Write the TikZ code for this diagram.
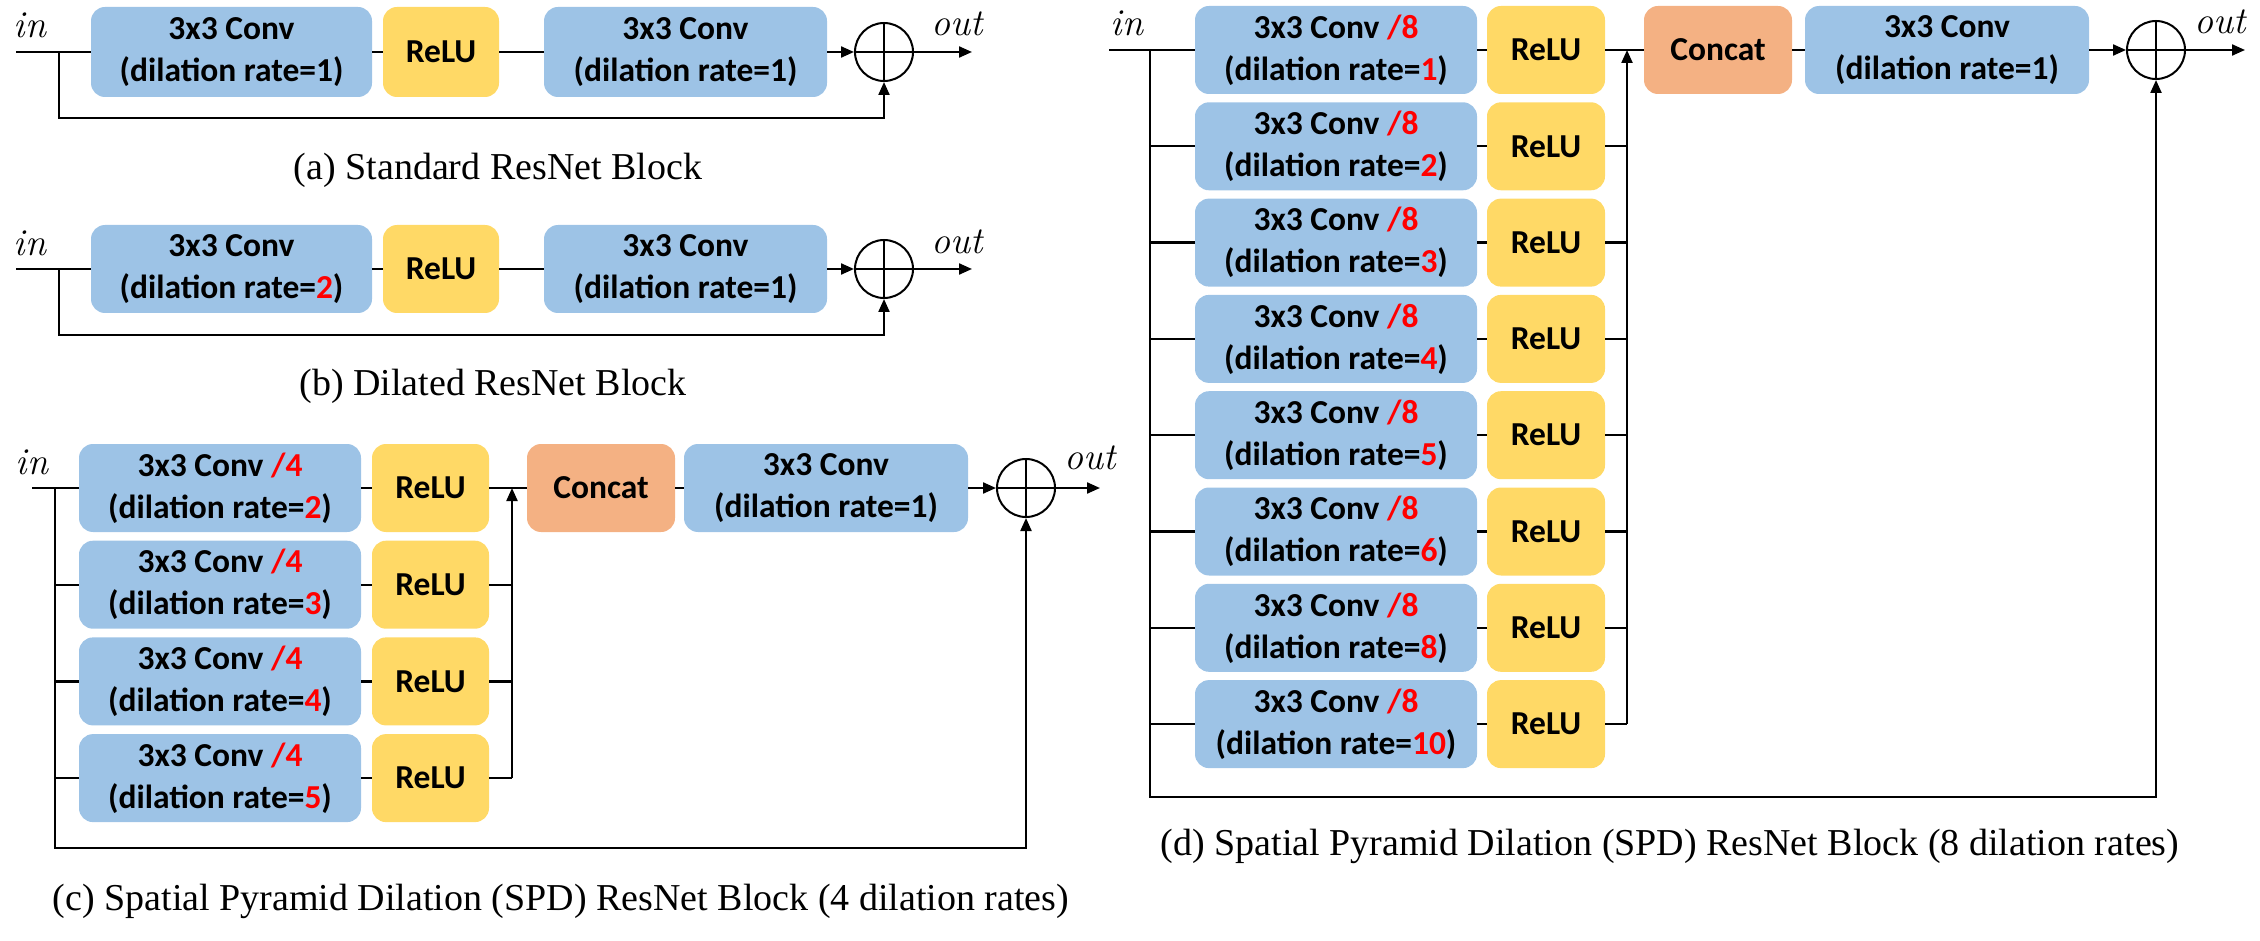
\documentclass[tikz,border=0pt]{standalone}
\usepackage{fontspec}
\setmainfont{Liberation Serif}
\newfontfamily\carlito{Carlito}
\newfontfamily\lmr{Latin Modern Roman}
\usetikzlibrary{arrows.meta}
\definecolor{convblue}{HTML}{9DC3E6}
\definecolor{reluyellow}{HTML}{FFD966}
\definecolor{catorange}{HTML}{F4B183}
\definecolor{rd}{HTML}{FF0000}
\newcommand{\rr}[1]{\textcolor{rd}{#1}}
\tikzset{
  basebox/.style={rounded corners=14pt, inner sep=0pt, align=center, minimum height=88pt,
    font=\carlito\bfseries\fontsize{33.5}{42}\selectfont},
  convbox/.style={basebox, fill=convblue, minimum width=282pt},
  relubox/.style={basebox, fill=reluyellow, minimum width=117pt},
  catbox/.style={basebox, fill=catorange, minimum width=148pt},
  sumnode/.style={circle, draw, line width=2pt, minimum size=58pt, inner sep=0pt,
    path picture={\draw[line width=2pt] (path picture bounding box.north) -- (path picture bounding box.south)
      (path picture bounding box.west) -- (path picture bounding box.east);}},
  link/.style={line width=2.2pt},
  arr/.style={link, -{Triangle[length=13pt,width=11pt]}},
  captext/.style={font=\fontsize{38}{44}\selectfont, inner sep=0pt},
  iotext/.style={font=\lmr\itshape\fontsize{38}{42}\selectfont, inner sep=0pt},
}
\begin{document}
\begin{tikzpicture}[x=1pt,y=-1pt]
\useasboundingbox (0,0) rectangle (2260,941);

% ---------- (a) ----------
\node[iotext] (ina) at (30,25) {in};
\coordinate (sa) at (16,52);
\coordinate (ta) at (59,52);
\node[convbox, minimum height=90pt, minimum width=281pt] (ca1) at (231.5,52) {3x3 Conv\\(dilation rate=1)};
\node[relubox, minimum height=90pt, minimum width=116pt] (ra) at (441,52) {ReLU};
\node[convbox, minimum height=90pt, minimum width=283pt] (ca2) at (685.5,52) {3x3 Conv\\(dilation rate=1)};
\node[sumnode] (suma) at (884,52) {};
\coordinate (ea) at (972,52);
\node[iotext] (outa) at (957,24) {out};
\draw[link] (sa) -- (ca1.west);
\draw[link] (ca1.east) -- (ra.west);
\draw[link] (ra.east) -- (ca2.west);
\draw[arr] (ca2.east) -- (suma.west);
\draw[arr] (suma.east) -- (ea);
\draw[arr] (ta) -- ++(0,66) -| (suma.south);
\node[captext] (capa) at (498,170) {(a) Standard ResNet Block};

% ---------- (b) ----------
\node[iotext] (inb) at (30,243) {in};
\coordinate (sb) at (16,269);
\coordinate (tb) at (59,269);
\node[convbox, minimum height=88pt, minimum width=281pt] (cb1) at (231.5,269) {3x3 Conv\\(dilation rate=\rr{2})};
\node[relubox, minimum height=88pt, minimum width=116pt] (rb) at (441,269) {ReLU};
\node[convbox, minimum height=88pt, minimum width=283pt] (cb2) at (685.5,269) {3x3 Conv\\(dilation rate=1)};
\node[sumnode] (sumb) at (884,269) {};
\coordinate (eb) at (972,269);
\node[iotext] (outb) at (957,242) {out};
\draw[link] (sb) -- (cb1.west);
\draw[link] (cb1.east) -- (rb.west);
\draw[link] (rb.east) -- (cb2.west);
\draw[arr] (cb2.east) -- (sumb.west);
\draw[arr] (sumb.east) -- (eb);
\draw[arr] (tb) -- ++(0,66) -| (sumb.south);
\node[captext] (capb) at (493,386) {(b) Dilated ResNet Block};

% ---------- (c) ----------
\node[iotext] (inc) at (32,462) {in};
\coordinate (sc) at (32,488);
\coordinate (tc) at (55,488);
\coordinate (bc) at (512,488);
\foreach \r [count=\i] in {2,3,4,5} {
  \pgfmathsetmacro\yy{488+96.7*(\i-1)}
  \node[convbox] (cc\i) at (220,\yy) {3x3 Conv \rr{/4}\\(dilation rate=\rr{\r})};
  \node[relubox] (rc\i) at (430.5,\yy) {ReLU};
  \draw[link] (cc\i.east) -- (rc\i.west);
}
\foreach \i in {2,3,4} {
  \draw[link] (tc |- cc\i.west) -- (cc\i.west);
  \draw[link] (rc\i.east) -- (bc |- rc\i.east);
}
\node[catbox] (catc) at (601,488) {Concat};
\node[convbox, minimum width=284pt] (cfc) at (826,488) {3x3 Conv\\(dilation rate=1)};
\node[sumnode] (sumc) at (1026,488) {};
\coordinate (ec) at (1100,488);
\node[iotext] (outc) at (1090,458) {out};
\draw[link] (sc) -- (cc1.west);
\draw[link] (rc1.east) -- (catc.west);
\draw[arr] (bc |- rc4.east) -- (bc);
\draw[link] (catc.east) -- (cfc.west);
\draw[arr] (cfc.east) -- (sumc.west);
\draw[arr] (sumc.east) -- (ec);
\draw[arr] (tc) -- ++(0,360) -| (sumc.south);
\node[captext] (capc) at (561,901) {(c) Spatial Pyramid Dilation (SPD) ResNet Block (4 dilation rates)};

% ---------- (d) ----------
\node[iotext] (ind) at (1127,23) {in};
\coordinate (sd) at (1109,50);
\coordinate (td) at (1150,50);
\coordinate (bd) at (1627,50);
\foreach \r [count=\i] in {1,2,3,4,5,6,8,10} {
  \pgfmathsetmacro\yy{50+96.3*(\i-1)}
  \node[convbox] (cd\i) at (1336,\yy) {3x3 Conv \rr{/8}\\(dilation rate=\rr{\r})};
  \node[relubox, minimum width=118pt] (rd\i) at (1546,\yy) {ReLU};
  \draw[link] (cd\i.east) -- (rd\i.west);
}
\foreach \i in {2,...,8} {
  \draw[link] (td |- cd\i.west) -- (cd\i.west);
  \draw[link] (rd\i.east) -- (bd |- rd\i.east);
}
\node[catbox] (catd) at (1718,50) {Concat};
\node[convbox, minimum width=284pt] (cfd) at (1947,50) {3x3 Conv\\(dilation rate=1)};
\node[sumnode] (sumd) at (2156,50) {};
\coordinate (ed) at (2245,50);
\node[iotext] (outd) at (2220,22) {out};
\draw[link] (sd) -- (cd1.west);
\draw[link] (rd1.east) -- (catd.west);
\draw[arr] (bd |- rd8.east) -- (bd);
\draw[link] (catd.east) -- (cfd.west);
\draw[arr] (cfd.east) -- (sumd.west);
\draw[arr] (sumd.east) -- (ed);
\draw[arr] (td) -- ++(0,747) -| (sumd.south);
\node[captext] (capd) at (1670,846) {(d) Spatial Pyramid Dilation (SPD) ResNet Block (8 dilation rates)};
\end{tikzpicture}
\end{document}
